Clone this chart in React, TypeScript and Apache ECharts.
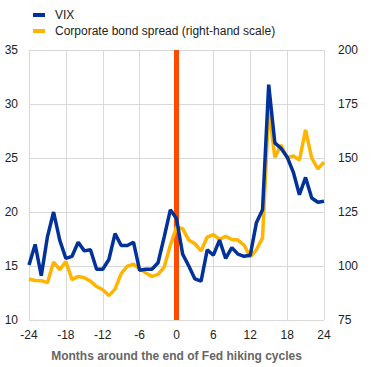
import React, { useEffect, useRef } from "react";
import * as echarts from "echarts";

const months: number[] = [
  -24, -23, -22, -21, -20, -19, -18, -17, -16, -15, -14, -13, -12, -11, -10, -9, -8, -7, -6, -5, -4, -3, -2, -1,
  0, 1, 2, 3, 4, 5, 6, 7, 8, 9, 10, 11, 12, 13, 14, 15, 16, 17, 18, 19, 20, 21, 22, 23, 24,
];

const vix: number[] = [
  15.1, 17.0, 14.1, 17.7, 20.0, 17.4, 15.7, 15.9, 17.2, 16.4, 16.5, 14.7, 14.7, 15.6, 18.0, 16.9, 16.9, 17.2, 14.6, 14.7, 14.7, 15.3, 17.7, 20.2,
  19.4, 16.1, 15.0, 13.8, 13.6, 16.5, 16.0, 17.4, 15.7, 16.7, 16.1, 15.9, 16.0, 19.0, 20.2, 31.8, 26.4, 25.9, 25.1, 23.7, 21.6, 23.2, 21.3, 20.9, 21.0,
];

const spread: number[] = [
  94.0, 93.3, 93.2, 92.3, 101.8, 98.3, 102.0, 93.7, 95.2, 94.6, 93.0, 90.5, 89.0, 86.3, 89.3, 96.5, 99.9, 100.8, 98.8, 96.8, 95.2, 96.1, 99.5, 109.6,
  118.0, 117.3, 112.0, 110.3, 107.0, 113.4, 114.5, 112.3, 113.8, 112.3, 112.0, 109.6, 104.2, 107.5, 113.0, 173.2, 150.3, 156.0, 150.0, 151.0, 149.0, 163.0, 150.0, 145.0, 148.0,
];

const seriesNames: string[] = ["VIX", "Corporate bond spread (right-hand scale)"];
const hikeEndMonth = 0;
const leftRange: number[] = [10, 35];
const rightRange: number[] = [75, 200];

export default function App() {
  const ref = useRef<HTMLDivElement>(null);
  useEffect(() => {
    if (!ref.current) return;
    const chart = echarts.init(ref.current, undefined, { renderer: "svg" });
    const font = "Liberation Sans, Arial, sans-serif";
    chart.setOption({
      animation: false,
      textStyle: { fontFamily: font },
      legend: {
        data: seriesNames,
        orient: "vertical",
        left: 28,
        top: 3,
        icon: "rect",
        itemWidth: 12,
        itemHeight: 4,
        itemGap: 2,
        textStyle: { fontSize: 12, color: "#222", lineHeight: 14, padding: [0, 0, 0, 5], fontFamily: font },
      },
      grid: { left: 29, right: 48, top: 50, bottom: 47 },
      xAxis: {
        type: "value",
        min: -24,
        max: 24,
        interval: 6,
        name: "Months around the end of Fed hiking cycles",
        nameLocation: "middle",
        nameGap: 30,
        nameTextStyle: { fontSize: 12, fontWeight: "bold", color: "#666", fontFamily: font },
        axisLine: { show: false },
        axisTick: { show: false },
        axisLabel: { fontSize: 12, color: "#222", margin: 9, fontFamily: font },
        splitLine: { show: true, lineStyle: { color: "#d9d9d9", width: 1 } },
      },
      yAxis: [
        {
          type: "value",
          min: leftRange[0],
          max: leftRange[1],
          interval: 5,
          position: "left",
          axisLine: { show: false },
          axisTick: { show: false },
          axisLabel: { fontSize: 12, color: "#222", margin: 11, fontFamily: font },
          splitLine: { show: true, lineStyle: { color: "#d9d9d9", width: 1 } },
        },
        {
          type: "value",
          min: rightRange[0],
          max: rightRange[1],
          interval: 25,
          position: "right",
          axisLine: { show: false },
          axisTick: { show: false },
          axisLabel: { fontSize: 12, color: "#222", margin: 14, fontFamily: font },
          splitLine: { show: false },
        },
      ],
      series: [
        {
          name: "hikeEnd",
          type: "line",
          yAxisIndex: 0,
          data: [
            [hikeEndMonth, leftRange[0]],
            [hikeEndMonth, leftRange[1]],
          ],
          showSymbol: false,
          symbol: "none",
          lineStyle: { color: "#ff4b00", width: 5 },
          silent: true,
          z: 1,
        },
        {
          name: seriesNames[0],
          type: "line",
          yAxisIndex: 0,
          data: months.map((m, i) => [m, vix[i]]),
          symbol: "none",
          itemStyle: { color: "#003299" },
          lineStyle: { color: "#003299", width: 3.5 },
          z: 3,
        },
        {
          name: seriesNames[1],
          type: "line",
          yAxisIndex: 1,
          data: months.map((m, i) => [m, spread[i]]),
          symbol: "none",
          itemStyle: { color: "#ffb400" },
          lineStyle: { color: "#ffb400", width: 3.5 },
          z: 2,
        },
      ],
    });
    return () => chart.dispose();
  }, []);
  return <div ref={ref} style={{ position: "absolute", left: 0, top: 0, width: 372, height: 367 }} />;
}
